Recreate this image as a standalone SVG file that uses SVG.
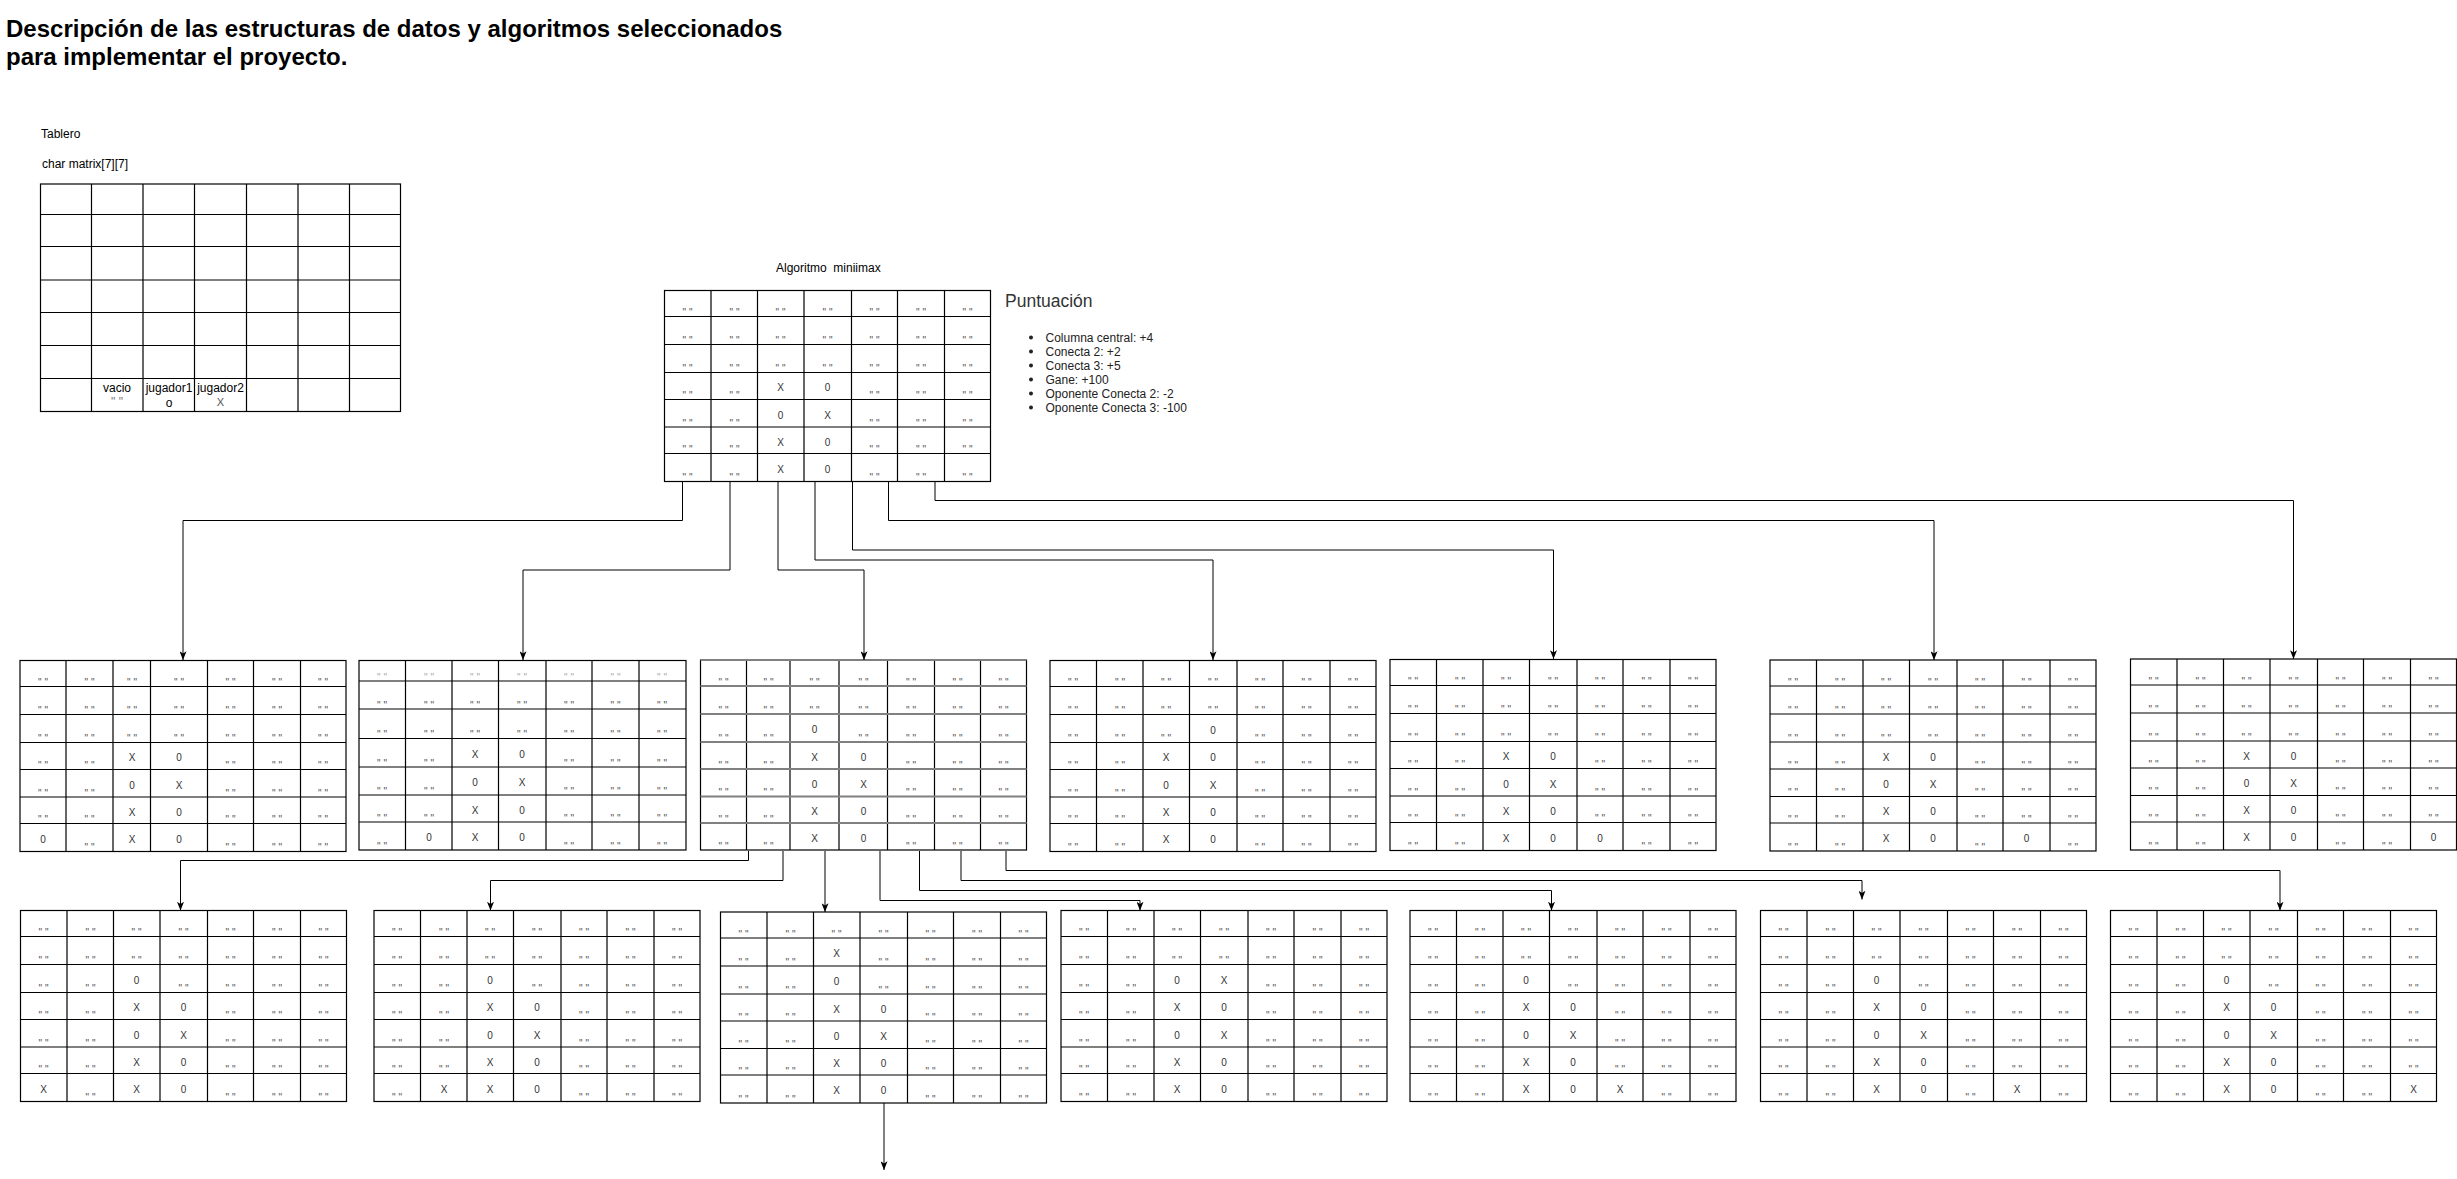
<svg xmlns="http://www.w3.org/2000/svg" width="2457" height="1179" viewBox="0 0 2457 1179">
<style>
text{font-family:"Liberation Sans",Arial,Helvetica,sans-serif}
.title{font-size:24px;font-weight:bold;fill:#000}
.lbl{font-size:12px;fill:#000}
.grid{fill:#fff;stroke:#000;stroke-width:1.2}
.gl{fill:none;stroke:#000;stroke-width:1.2}
.gray{fill:none;stroke:#808080;stroke-width:2}
.q{font-size:10px;fill:#555;text-anchor:middle}
.q2{font-size:10px;fill:#aaa;text-anchor:middle}
.p{font-size:10px;fill:#333;text-anchor:middle}
.c{font-size:12px;fill:#000;text-anchor:middle}
.edge{fill:none;stroke:#000;stroke-width:1}
</style>
<defs>
<marker id="arr" viewBox="0 0 10 8" refX="10" refY="4" markerWidth="9" markerHeight="7" markerUnits="userSpaceOnUse" orient="auto"><path d="M0 0L10 4L0 8L2.5 4z" fill="#000"/></marker>
<g id="grid"><rect class="grid" x="0" y="0" width="326" height="191"/><path class="gl" d="M46.5 0V191M93 0V191M139.5 0V191M187 0V191M233 0V191M280 0V191M0 26H326M0 54H326M0 82H326M0 109H326M0 136.5H326M0 163H326"/></g>
</defs>
<rect width="2457" height="1179" fill="#fff"/>

<g id="title">
<text class="title" x="6" y="37">Descripción de las estructuras de datos y algoritmos seleccionados</text>
<text class="title" x="6" y="65">para implementar el proyecto.</text>
</g>

<g id="tablero-labels">
<text class="lbl" x="41" y="138">Tablero</text>
<text class="lbl" x="42" y="167.5">char matrix[7][7]</text>
</g>

<g id="board-tablero">
<rect class="grid" x="40.5" y="184" width="360" height="227.5"/>
<path class="gl" d="M91.5 184V411.5M143 184V411.5M194.5 184V411.5M246.5 184V411.5M298 184V411.5M349.5 184V411.5M40.5 214.5H400.5M40.5 246.5H400.5M40.5 280H400.5M40.5 312.5H400.5M40.5 345.5H400.5M40.5 378.5H400.5"/>
<text class="c" x="117" y="392">vacio</text>
<text class="c" x="117" y="405.5" style="fill:#777">" "</text>
<text class="c" x="169" y="392">jugador1</text>
<text class="c" x="169" y="407">o</text>
<text class="c" x="220.5" y="392">jugador2</text>
<text class="c" x="220.5" y="405.5" style="fill:#555;font-size:11px">X</text>
</g>

<g id="minimax-label"><text class="lbl" x="776" y="271.5" xml:space="preserve">Algoritmo  miniimax</text></g>

<g id="puntuacion">
<text x="1005" y="306.5" style="font-size:17.5px;fill:#333">Puntuación</text>
<g style="fill:#222">
<circle cx="1031" cy="337.5" r="2"/><circle cx="1031" cy="351.5" r="2"/><circle cx="1031" cy="365.5" r="2"/><circle cx="1031" cy="379.5" r="2"/><circle cx="1031" cy="393.5" r="2"/><circle cx="1031" cy="407.5" r="2"/>
</g>
<g style="font-size:12px;fill:#222">
<text x="1045.5" y="341.5">Columna central: +4</text>
<text x="1045.5" y="355.5">Conecta 2: +2</text>
<text x="1045.5" y="369.5">Conecta 3: +5</text>
<text x="1045.5" y="383.5">Gane: +100</text>
<text x="1045.5" y="397.5">Oponente Conecta 2: -2</text>
<text x="1045.5" y="411.5">Oponente Conecta 3: -100</text>
</g>
</g>

<g id="board-minimax" transform="translate(664.5,290.5)">
<use href="#grid"/>
<g class="q" transform="translate(0,25.5)"><text x="23">" "</text><text x="70">" "</text><text x="116">" "</text><text x="163">" "</text><text x="210">" "</text><text x="256.5">" "</text><text x="303">" "</text></g>
<g class="q" transform="translate(0,53.5)"><text x="23">" "</text><text x="70">" "</text><text x="116">" "</text><text x="163">" "</text><text x="210">" "</text><text x="256.5">" "</text><text x="303">" "</text></g>
<g class="q" transform="translate(0,81.5)"><text x="23">" "</text><text x="70">" "</text><text x="116">" "</text><text x="163">" "</text><text x="210">" "</text><text x="256.5">" "</text><text x="303">" "</text></g>
<g class="q" transform="translate(0,108.5)"><text x="23">" "</text><text x="70">" "</text><text x="210">" "</text><text x="256.5">" "</text><text x="303">" "</text></g>
<g class="p" transform="translate(0,100.5)"><text x="116">X</text><text x="163">0</text></g>
<g class="q" transform="translate(0,136)"><text x="23">" "</text><text x="70">" "</text><text x="210">" "</text><text x="256.5">" "</text><text x="303">" "</text></g>
<g class="p" transform="translate(0,128)"><text x="116">0</text><text x="163">X</text></g>
<g class="q" transform="translate(0,162.5)"><text x="23">" "</text><text x="70">" "</text><text x="210">" "</text><text x="256.5">" "</text><text x="303">" "</text></g>
<g class="p" transform="translate(0,155)"><text x="116">X</text><text x="163">0</text></g>
<g class="q" transform="translate(0,190.5)"><text x="23">" "</text><text x="70">" "</text><text x="210">" "</text><text x="256.5">" "</text><text x="303">" "</text></g>
<g class="p" transform="translate(0,182)"><text x="116">X</text><text x="163">0</text></g>
</g>

<g id="board-b1" transform="translate(20,660.5)">
<rect class="grid" x="0" y="0" width="326" height="191"/>
<path class="gl" d="M46 0V191M93 0V191M130.5 0V191M187.5 0V191M233.5 0V191M280.5 0V191M0 26H326M0 54H326M0 82H326M0 109H326M0 136.5H326M0 163H326"/>
<g class="q" transform="translate(0,25.5)"><text x="23">" "</text><text x="69.5">" "</text><text x="112">" "</text><text x="159">" "</text><text x="210.5">" "</text><text x="257">" "</text><text x="303">" "</text></g>
<g class="q" transform="translate(0,53.5)"><text x="23">" "</text><text x="69.5">" "</text><text x="112">" "</text><text x="159">" "</text><text x="210.5">" "</text><text x="257">" "</text><text x="303">" "</text></g>
<g class="q" transform="translate(0,81.5)"><text x="23">" "</text><text x="69.5">" "</text><text x="112">" "</text><text x="159">" "</text><text x="210.5">" "</text><text x="257">" "</text><text x="303">" "</text></g>
<g class="q" transform="translate(0,108.5)"><text x="23">" "</text><text x="69.5">" "</text><text x="210.5">" "</text><text x="257">" "</text><text x="303">" "</text></g>
<g class="p" transform="translate(0,100.5)"><text x="112">X</text><text x="159">0</text></g>
<g class="q" transform="translate(0,136)"><text x="23">" "</text><text x="69.5">" "</text><text x="210.5">" "</text><text x="257">" "</text><text x="303">" "</text></g>
<g class="p" transform="translate(0,128)"><text x="112">0</text><text x="159">X</text></g>
<g class="q" transform="translate(0,162.5)"><text x="23">" "</text><text x="69.5">" "</text><text x="210.5">" "</text><text x="257">" "</text><text x="303">" "</text></g>
<g class="p" transform="translate(0,155)"><text x="112">X</text><text x="159">0</text></g>
<g class="q" transform="translate(0,190.5)"><text x="69.5">" "</text><text x="210.5">" "</text><text x="257">" "</text><text x="303">" "</text></g>
<g class="p" transform="translate(0,182)"><text x="23">0</text><text x="112">X</text><text x="159">0</text></g>
</g>

<g id="board-b2" transform="translate(359,660.5)">
<rect class="grid" x="0" y="0" width="327" height="189.5"/>
<path class="gl" d="M46.5 0V189.5M93 0V189.5M139.5 0V189.5M187 0V189.5M233 0V189.5M280 0V189.5M0 20.5H327M0 48.5H327M0 78H327M0 106.5H327M0 134.5H327M0 161.5H327"/>
<g class="q2" transform="translate(0,20)"><text x="23">" "</text><text x="70">" "</text><text x="116">" "</text><text x="163">" "</text><text x="210">" "</text><text x="256.5">" "</text><text x="303">" "</text></g>
<g class="q" transform="translate(0,48)"><text x="23">" "</text><text x="70">" "</text><text x="116">" "</text><text x="163">" "</text><text x="210">" "</text><text x="256.5">" "</text><text x="303">" "</text></g>
<g class="q" transform="translate(0,77.5)"><text x="23">" "</text><text x="70">" "</text><text x="116">" "</text><text x="163">" "</text><text x="210">" "</text><text x="256.5">" "</text><text x="303">" "</text></g>
<g class="q" transform="translate(0,106)"><text x="23">" "</text><text x="70">" "</text><text x="210">" "</text><text x="256.5">" "</text><text x="303">" "</text></g>
<g class="p" transform="translate(0,97)"><text x="116">X</text><text x="163">0</text></g>
<g class="q" transform="translate(0,134)"><text x="23">" "</text><text x="70">" "</text><text x="210">" "</text><text x="256.5">" "</text><text x="303">" "</text></g>
<g class="p" transform="translate(0,125.5)"><text x="116">0</text><text x="163">X</text></g>
<g class="q" transform="translate(0,161)"><text x="23">" "</text><text x="70">" "</text><text x="210">" "</text><text x="256.5">" "</text><text x="303">" "</text></g>
<g class="p" transform="translate(0,153)"><text x="116">X</text><text x="163">0</text></g>
<g class="q" transform="translate(0,189)"><text x="23">" "</text><text x="210">" "</text><text x="256.5">" "</text><text x="303">" "</text></g>
<g class="p" transform="translate(0,180.5)"><text x="70">0</text><text x="116">X</text><text x="163">0</text></g>
</g>

<g id="board-b3" transform="translate(700.5,660)">
<rect class="grid" x="0" y="0" width="326" height="190"/>
<path class="gl" d="M46 0V190M89.5 0V190M138.5 0V190M187 0V190M234 0V190M280 0V190"/>
<path class="gray" d="M0 0H326M0 26H326M0 54H326M0 82H326M0 109H326M0 136.5H326M0 163H326"/>
<g class="q" transform="translate(0,25.5)"><text x="23">" "</text><text x="68">" "</text><text x="114">" "</text><text x="163">" "</text><text x="210.5">" "</text><text x="257">" "</text><text x="303">" "</text></g>
<g class="q" transform="translate(0,53.5)"><text x="23">" "</text><text x="68">" "</text><text x="114">" "</text><text x="163">" "</text><text x="210.5">" "</text><text x="257">" "</text><text x="303">" "</text></g>
<g class="q" transform="translate(0,81.5)"><text x="23">" "</text><text x="68">" "</text><text x="163">" "</text><text x="210.5">" "</text><text x="257">" "</text><text x="303">" "</text></g>
<g class="p" transform="translate(0,73)"><text x="114">0</text></g>
<g class="q" transform="translate(0,108.5)"><text x="23">" "</text><text x="68">" "</text><text x="210.5">" "</text><text x="257">" "</text><text x="303">" "</text></g>
<g class="p" transform="translate(0,100.5)"><text x="114">X</text><text x="163">0</text></g>
<g class="q" transform="translate(0,136)"><text x="23">" "</text><text x="68">" "</text><text x="210.5">" "</text><text x="257">" "</text><text x="303">" "</text></g>
<g class="p" transform="translate(0,128)"><text x="114">0</text><text x="163">X</text></g>
<g class="q" transform="translate(0,162.5)"><text x="23">" "</text><text x="68">" "</text><text x="210.5">" "</text><text x="257">" "</text><text x="303">" "</text></g>
<g class="p" transform="translate(0,155)"><text x="114">X</text><text x="163">0</text></g>
<g class="q" transform="translate(0,189.5)"><text x="23">" "</text><text x="68">" "</text><text x="210.5">" "</text><text x="257">" "</text><text x="303">" "</text></g>
<g class="p" transform="translate(0,181.5)"><text x="114">X</text><text x="163">0</text></g>
</g>

<g id="board-b4" transform="translate(1050,660.5)">
<use href="#grid"/>
<g class="q" transform="translate(0,25.5)"><text x="23">" "</text><text x="70">" "</text><text x="116">" "</text><text x="163">" "</text><text x="210">" "</text><text x="256.5">" "</text><text x="303">" "</text></g>
<g class="q" transform="translate(0,53.5)"><text x="23">" "</text><text x="70">" "</text><text x="116">" "</text><text x="163">" "</text><text x="210">" "</text><text x="256.5">" "</text><text x="303">" "</text></g>
<g class="q" transform="translate(0,81.5)"><text x="23">" "</text><text x="70">" "</text><text x="116">" "</text><text x="210">" "</text><text x="256.5">" "</text><text x="303">" "</text></g>
<g class="p" transform="translate(0,73)"><text x="163">0</text></g>
<g class="q" transform="translate(0,108.5)"><text x="23">" "</text><text x="70">" "</text><text x="210">" "</text><text x="256.5">" "</text><text x="303">" "</text></g>
<g class="p" transform="translate(0,100.5)"><text x="116">X</text><text x="163">0</text></g>
<g class="q" transform="translate(0,136)"><text x="23">" "</text><text x="70">" "</text><text x="210">" "</text><text x="256.5">" "</text><text x="303">" "</text></g>
<g class="p" transform="translate(0,128)"><text x="116">0</text><text x="163">X</text></g>
<g class="q" transform="translate(0,162.5)"><text x="23">" "</text><text x="70">" "</text><text x="210">" "</text><text x="256.5">" "</text><text x="303">" "</text></g>
<g class="p" transform="translate(0,155)"><text x="116">X</text><text x="163">0</text></g>
<g class="q" transform="translate(0,190.5)"><text x="23">" "</text><text x="70">" "</text><text x="210">" "</text><text x="256.5">" "</text><text x="303">" "</text></g>
<g class="p" transform="translate(0,182)"><text x="116">X</text><text x="163">0</text></g>
</g>

<g id="board-b5" transform="translate(1390,659.5)">
<use href="#grid"/>
<g class="q" transform="translate(0,25.5)"><text x="23">" "</text><text x="70">" "</text><text x="116">" "</text><text x="163">" "</text><text x="210">" "</text><text x="256.5">" "</text><text x="303">" "</text></g>
<g class="q" transform="translate(0,53.5)"><text x="23">" "</text><text x="70">" "</text><text x="116">" "</text><text x="163">" "</text><text x="210">" "</text><text x="256.5">" "</text><text x="303">" "</text></g>
<g class="q" transform="translate(0,81.5)"><text x="23">" "</text><text x="70">" "</text><text x="116">" "</text><text x="163">" "</text><text x="210">" "</text><text x="256.5">" "</text><text x="303">" "</text></g>
<g class="q" transform="translate(0,108.5)"><text x="23">" "</text><text x="70">" "</text><text x="210">" "</text><text x="256.5">" "</text><text x="303">" "</text></g>
<g class="p" transform="translate(0,100.5)"><text x="116">X</text><text x="163">0</text></g>
<g class="q" transform="translate(0,136)"><text x="23">" "</text><text x="70">" "</text><text x="210">" "</text><text x="256.5">" "</text><text x="303">" "</text></g>
<g class="p" transform="translate(0,128)"><text x="116">0</text><text x="163">X</text></g>
<g class="q" transform="translate(0,162.5)"><text x="23">" "</text><text x="70">" "</text><text x="210">" "</text><text x="256.5">" "</text><text x="303">" "</text></g>
<g class="p" transform="translate(0,155)"><text x="116">X</text><text x="163">0</text></g>
<g class="q" transform="translate(0,190.5)"><text x="23">" "</text><text x="70">" "</text><text x="256.5">" "</text><text x="303">" "</text></g>
<g class="p" transform="translate(0,182)"><text x="116">X</text><text x="163">0</text><text x="210">0</text></g>
</g>

<g id="board-b6" transform="translate(1770,660)">
<use href="#grid"/>
<g class="q" transform="translate(0,25.5)"><text x="23">" "</text><text x="70">" "</text><text x="116">" "</text><text x="163">" "</text><text x="210">" "</text><text x="256.5">" "</text><text x="303">" "</text></g>
<g class="q" transform="translate(0,53.5)"><text x="23">" "</text><text x="70">" "</text><text x="116">" "</text><text x="163">" "</text><text x="210">" "</text><text x="256.5">" "</text><text x="303">" "</text></g>
<g class="q" transform="translate(0,81.5)"><text x="23">" "</text><text x="70">" "</text><text x="116">" "</text><text x="163">" "</text><text x="210">" "</text><text x="256.5">" "</text><text x="303">" "</text></g>
<g class="q" transform="translate(0,108.5)"><text x="23">" "</text><text x="70">" "</text><text x="210">" "</text><text x="256.5">" "</text><text x="303">" "</text></g>
<g class="p" transform="translate(0,100.5)"><text x="116">X</text><text x="163">0</text></g>
<g class="q" transform="translate(0,136)"><text x="23">" "</text><text x="70">" "</text><text x="210">" "</text><text x="256.5">" "</text><text x="303">" "</text></g>
<g class="p" transform="translate(0,128)"><text x="116">0</text><text x="163">X</text></g>
<g class="q" transform="translate(0,162.5)"><text x="23">" "</text><text x="70">" "</text><text x="210">" "</text><text x="256.5">" "</text><text x="303">" "</text></g>
<g class="p" transform="translate(0,155)"><text x="116">X</text><text x="163">0</text></g>
<g class="q" transform="translate(0,190.5)"><text x="23">" "</text><text x="70">" "</text><text x="210">" "</text><text x="303">" "</text></g>
<g class="p" transform="translate(0,182)"><text x="116">X</text><text x="163">0</text><text x="256.5">0</text></g>
</g>

<g id="board-b7" transform="translate(2130.5,659)">
<use href="#grid"/>
<g class="q" transform="translate(0,25.5)"><text x="23">" "</text><text x="70">" "</text><text x="116">" "</text><text x="163">" "</text><text x="210">" "</text><text x="256.5">" "</text><text x="303">" "</text></g>
<g class="q" transform="translate(0,53.5)"><text x="23">" "</text><text x="70">" "</text><text x="116">" "</text><text x="163">" "</text><text x="210">" "</text><text x="256.5">" "</text><text x="303">" "</text></g>
<g class="q" transform="translate(0,81.5)"><text x="23">" "</text><text x="70">" "</text><text x="116">" "</text><text x="163">" "</text><text x="210">" "</text><text x="256.5">" "</text><text x="303">" "</text></g>
<g class="q" transform="translate(0,108.5)"><text x="23">" "</text><text x="70">" "</text><text x="210">" "</text><text x="256.5">" "</text><text x="303">" "</text></g>
<g class="p" transform="translate(0,100.5)"><text x="116">X</text><text x="163">0</text></g>
<g class="q" transform="translate(0,136)"><text x="23">" "</text><text x="70">" "</text><text x="210">" "</text><text x="256.5">" "</text><text x="303">" "</text></g>
<g class="p" transform="translate(0,128)"><text x="116">0</text><text x="163">X</text></g>
<g class="q" transform="translate(0,162.5)"><text x="23">" "</text><text x="70">" "</text><text x="210">" "</text><text x="256.5">" "</text><text x="303">" "</text></g>
<g class="p" transform="translate(0,155)"><text x="116">X</text><text x="163">0</text></g>
<g class="q" transform="translate(0,190.5)"><text x="23">" "</text><text x="70">" "</text><text x="210">" "</text><text x="256.5">" "</text></g>
<g class="p" transform="translate(0,182)"><text x="116">X</text><text x="163">0</text><text x="303">0</text></g>
</g>

<g id="board-c1" transform="translate(20.5,910.5)">
<use href="#grid"/>
<g class="q" transform="translate(0,25.5)"><text x="23">" "</text><text x="70">" "</text><text x="116">" "</text><text x="163">" "</text><text x="210">" "</text><text x="256.5">" "</text><text x="303">" "</text></g>
<g class="q" transform="translate(0,53.5)"><text x="23">" "</text><text x="70">" "</text><text x="116">" "</text><text x="163">" "</text><text x="210">" "</text><text x="256.5">" "</text><text x="303">" "</text></g>
<g class="q" transform="translate(0,81.5)"><text x="23">" "</text><text x="70">" "</text><text x="163">" "</text><text x="210">" "</text><text x="256.5">" "</text><text x="303">" "</text></g>
<g class="p" transform="translate(0,73)"><text x="116">0</text></g>
<g class="q" transform="translate(0,108.5)"><text x="23">" "</text><text x="70">" "</text><text x="210">" "</text><text x="256.5">" "</text><text x="303">" "</text></g>
<g class="p" transform="translate(0,100.5)"><text x="116">X</text><text x="163">0</text></g>
<g class="q" transform="translate(0,136)"><text x="23">" "</text><text x="70">" "</text><text x="210">" "</text><text x="256.5">" "</text><text x="303">" "</text></g>
<g class="p" transform="translate(0,128)"><text x="116">0</text><text x="163">X</text></g>
<g class="q" transform="translate(0,162.5)"><text x="23">" "</text><text x="70">" "</text><text x="210">" "</text><text x="256.5">" "</text><text x="303">" "</text></g>
<g class="p" transform="translate(0,155)"><text x="116">X</text><text x="163">0</text></g>
<g class="q" transform="translate(0,190.5)"><text x="70">" "</text><text x="210">" "</text><text x="256.5">" "</text><text x="303">" "</text></g>
<g class="p" transform="translate(0,182)"><text x="23">X</text><text x="116">X</text><text x="163">0</text></g>
</g>

<g id="board-c2" transform="translate(374,910.5)">
<use href="#grid"/>
<g class="q" transform="translate(0,25.5)"><text x="23">" "</text><text x="70">" "</text><text x="116">" "</text><text x="163">" "</text><text x="210">" "</text><text x="256.5">" "</text><text x="303">" "</text></g>
<g class="q" transform="translate(0,53.5)"><text x="23">" "</text><text x="70">" "</text><text x="116">" "</text><text x="163">" "</text><text x="210">" "</text><text x="256.5">" "</text><text x="303">" "</text></g>
<g class="q" transform="translate(0,81.5)"><text x="23">" "</text><text x="70">" "</text><text x="163">" "</text><text x="210">" "</text><text x="256.5">" "</text><text x="303">" "</text></g>
<g class="p" transform="translate(0,73)"><text x="116">0</text></g>
<g class="q" transform="translate(0,108.5)"><text x="23">" "</text><text x="70">" "</text><text x="210">" "</text><text x="256.5">" "</text><text x="303">" "</text></g>
<g class="p" transform="translate(0,100.5)"><text x="116">X</text><text x="163">0</text></g>
<g class="q" transform="translate(0,136)"><text x="23">" "</text><text x="70">" "</text><text x="210">" "</text><text x="256.5">" "</text><text x="303">" "</text></g>
<g class="p" transform="translate(0,128)"><text x="116">0</text><text x="163">X</text></g>
<g class="q" transform="translate(0,162.5)"><text x="23">" "</text><text x="70">" "</text><text x="210">" "</text><text x="256.5">" "</text><text x="303">" "</text></g>
<g class="p" transform="translate(0,155)"><text x="116">X</text><text x="163">0</text></g>
<g class="q" transform="translate(0,190.5)"><text x="23">" "</text><text x="210">" "</text><text x="256.5">" "</text><text x="303">" "</text></g>
<g class="p" transform="translate(0,182)"><text x="70">X</text><text x="116">X</text><text x="163">0</text></g>
</g>

<g id="board-c3" transform="translate(720.5,912)">
<use href="#grid"/>
<g class="q" transform="translate(0,25.5)"><text x="23">" "</text><text x="70">" "</text><text x="116">" "</text><text x="163">" "</text><text x="210">" "</text><text x="256.5">" "</text><text x="303">" "</text></g>
<g class="q" transform="translate(0,53.5)"><text x="23">" "</text><text x="70">" "</text><text x="163">" "</text><text x="210">" "</text><text x="256.5">" "</text><text x="303">" "</text></g>
<g class="p" transform="translate(0,45)"><text x="116">X</text></g>
<g class="q" transform="translate(0,81.5)"><text x="23">" "</text><text x="70">" "</text><text x="163">" "</text><text x="210">" "</text><text x="256.5">" "</text><text x="303">" "</text></g>
<g class="p" transform="translate(0,73)"><text x="116">0</text></g>
<g class="q" transform="translate(0,108.5)"><text x="23">" "</text><text x="70">" "</text><text x="210">" "</text><text x="256.5">" "</text><text x="303">" "</text></g>
<g class="p" transform="translate(0,100.5)"><text x="116">X</text><text x="163">0</text></g>
<g class="q" transform="translate(0,136)"><text x="23">" "</text><text x="70">" "</text><text x="210">" "</text><text x="256.5">" "</text><text x="303">" "</text></g>
<g class="p" transform="translate(0,128)"><text x="116">0</text><text x="163">X</text></g>
<g class="q" transform="translate(0,162.5)"><text x="23">" "</text><text x="70">" "</text><text x="210">" "</text><text x="256.5">" "</text><text x="303">" "</text></g>
<g class="p" transform="translate(0,155)"><text x="116">X</text><text x="163">0</text></g>
<g class="q" transform="translate(0,190.5)"><text x="23">" "</text><text x="70">" "</text><text x="210">" "</text><text x="256.5">" "</text><text x="303">" "</text></g>
<g class="p" transform="translate(0,182)"><text x="116">X</text><text x="163">0</text></g>
</g>

<g id="board-c4" transform="translate(1061,910.5)">
<use href="#grid"/>
<g class="q" transform="translate(0,25.5)"><text x="23">" "</text><text x="70">" "</text><text x="116">" "</text><text x="163">" "</text><text x="210">" "</text><text x="256.5">" "</text><text x="303">" "</text></g>
<g class="q" transform="translate(0,53.5)"><text x="23">" "</text><text x="70">" "</text><text x="116">" "</text><text x="163">" "</text><text x="210">" "</text><text x="256.5">" "</text><text x="303">" "</text></g>
<g class="q" transform="translate(0,81.5)"><text x="23">" "</text><text x="70">" "</text><text x="210">" "</text><text x="256.5">" "</text><text x="303">" "</text></g>
<g class="p" transform="translate(0,73)"><text x="116">0</text><text x="163">X</text></g>
<g class="q" transform="translate(0,108.5)"><text x="23">" "</text><text x="70">" "</text><text x="210">" "</text><text x="256.5">" "</text><text x="303">" "</text></g>
<g class="p" transform="translate(0,100.5)"><text x="116">X</text><text x="163">0</text></g>
<g class="q" transform="translate(0,136)"><text x="23">" "</text><text x="70">" "</text><text x="210">" "</text><text x="256.5">" "</text><text x="303">" "</text></g>
<g class="p" transform="translate(0,128)"><text x="116">0</text><text x="163">X</text></g>
<g class="q" transform="translate(0,162.5)"><text x="23">" "</text><text x="70">" "</text><text x="210">" "</text><text x="256.5">" "</text><text x="303">" "</text></g>
<g class="p" transform="translate(0,155)"><text x="116">X</text><text x="163">0</text></g>
<g class="q" transform="translate(0,190.5)"><text x="23">" "</text><text x="70">" "</text><text x="210">" "</text><text x="256.5">" "</text><text x="303">" "</text></g>
<g class="p" transform="translate(0,182)"><text x="116">X</text><text x="163">0</text></g>
</g>

<g id="board-c5" transform="translate(1410,910.5)">
<use href="#grid"/>
<g class="q" transform="translate(0,25.5)"><text x="23">" "</text><text x="70">" "</text><text x="116">" "</text><text x="163">" "</text><text x="210">" "</text><text x="256.5">" "</text><text x="303">" "</text></g>
<g class="q" transform="translate(0,53.5)"><text x="23">" "</text><text x="70">" "</text><text x="116">" "</text><text x="163">" "</text><text x="210">" "</text><text x="256.5">" "</text><text x="303">" "</text></g>
<g class="q" transform="translate(0,81.5)"><text x="23">" "</text><text x="70">" "</text><text x="163">" "</text><text x="210">" "</text><text x="256.5">" "</text><text x="303">" "</text></g>
<g class="p" transform="translate(0,73)"><text x="116">0</text></g>
<g class="q" transform="translate(0,108.5)"><text x="23">" "</text><text x="70">" "</text><text x="210">" "</text><text x="256.5">" "</text><text x="303">" "</text></g>
<g class="p" transform="translate(0,100.5)"><text x="116">X</text><text x="163">0</text></g>
<g class="q" transform="translate(0,136)"><text x="23">" "</text><text x="70">" "</text><text x="210">" "</text><text x="256.5">" "</text><text x="303">" "</text></g>
<g class="p" transform="translate(0,128)"><text x="116">0</text><text x="163">X</text></g>
<g class="q" transform="translate(0,162.5)"><text x="23">" "</text><text x="70">" "</text><text x="210">" "</text><text x="256.5">" "</text><text x="303">" "</text></g>
<g class="p" transform="translate(0,155)"><text x="116">X</text><text x="163">0</text></g>
<g class="q" transform="translate(0,190.5)"><text x="23">" "</text><text x="70">" "</text><text x="256.5">" "</text><text x="303">" "</text></g>
<g class="p" transform="translate(0,182)"><text x="116">X</text><text x="163">0</text><text x="210">X</text></g>
</g>

<g id="board-c6" transform="translate(1760.5,910.5)">
<use href="#grid"/>
<g class="q" transform="translate(0,25.5)"><text x="23">" "</text><text x="70">" "</text><text x="116">" "</text><text x="163">" "</text><text x="210">" "</text><text x="256.5">" "</text><text x="303">" "</text></g>
<g class="q" transform="translate(0,53.5)"><text x="23">" "</text><text x="70">" "</text><text x="116">" "</text><text x="163">" "</text><text x="210">" "</text><text x="256.5">" "</text><text x="303">" "</text></g>
<g class="q" transform="translate(0,81.5)"><text x="23">" "</text><text x="70">" "</text><text x="163">" "</text><text x="210">" "</text><text x="256.5">" "</text><text x="303">" "</text></g>
<g class="p" transform="translate(0,73)"><text x="116">0</text></g>
<g class="q" transform="translate(0,108.5)"><text x="23">" "</text><text x="70">" "</text><text x="210">" "</text><text x="256.5">" "</text><text x="303">" "</text></g>
<g class="p" transform="translate(0,100.5)"><text x="116">X</text><text x="163">0</text></g>
<g class="q" transform="translate(0,136)"><text x="23">" "</text><text x="70">" "</text><text x="210">" "</text><text x="256.5">" "</text><text x="303">" "</text></g>
<g class="p" transform="translate(0,128)"><text x="116">0</text><text x="163">X</text></g>
<g class="q" transform="translate(0,162.5)"><text x="23">" "</text><text x="70">" "</text><text x="210">" "</text><text x="256.5">" "</text><text x="303">" "</text></g>
<g class="p" transform="translate(0,155)"><text x="116">X</text><text x="163">0</text></g>
<g class="q" transform="translate(0,190.5)"><text x="23">" "</text><text x="70">" "</text><text x="210">" "</text><text x="303">" "</text></g>
<g class="p" transform="translate(0,182)"><text x="116">X</text><text x="163">0</text><text x="256.5">X</text></g>
</g>

<g id="board-c7" transform="translate(2110.5,910.5)">
<use href="#grid"/>
<g class="q" transform="translate(0,25.5)"><text x="23">" "</text><text x="70">" "</text><text x="116">" "</text><text x="163">" "</text><text x="210">" "</text><text x="256.5">" "</text><text x="303">" "</text></g>
<g class="q" transform="translate(0,53.5)"><text x="23">" "</text><text x="70">" "</text><text x="116">" "</text><text x="163">" "</text><text x="210">" "</text><text x="256.5">" "</text><text x="303">" "</text></g>
<g class="q" transform="translate(0,81.5)"><text x="23">" "</text><text x="70">" "</text><text x="163">" "</text><text x="210">" "</text><text x="256.5">" "</text><text x="303">" "</text></g>
<g class="p" transform="translate(0,73)"><text x="116">0</text></g>
<g class="q" transform="translate(0,108.5)"><text x="23">" "</text><text x="70">" "</text><text x="210">" "</text><text x="256.5">" "</text><text x="303">" "</text></g>
<g class="p" transform="translate(0,100.5)"><text x="116">X</text><text x="163">0</text></g>
<g class="q" transform="translate(0,136)"><text x="23">" "</text><text x="70">" "</text><text x="210">" "</text><text x="256.5">" "</text><text x="303">" "</text></g>
<g class="p" transform="translate(0,128)"><text x="116">0</text><text x="163">X</text></g>
<g class="q" transform="translate(0,162.5)"><text x="23">" "</text><text x="70">" "</text><text x="210">" "</text><text x="256.5">" "</text><text x="303">" "</text></g>
<g class="p" transform="translate(0,155)"><text x="116">X</text><text x="163">0</text></g>
<g class="q" transform="translate(0,190.5)"><text x="23">" "</text><text x="70">" "</text><text x="210">" "</text><text x="256.5">" "</text></g>
<g class="p" transform="translate(0,182)"><text x="116">X</text><text x="163">0</text><text x="303">X</text></g>
</g>

<g id="connectors">
<path class="edge" marker-end="url(#arr)" d="M682.5 481V520.5H183V660"/>
<path class="edge" marker-end="url(#arr)" d="M730 481V570H523V660"/>
<path class="edge" marker-end="url(#arr)" d="M778 481V570H864V660"/>
<path class="edge" marker-end="url(#arr)" d="M815 481V560H1213V660"/>
<path class="edge" marker-end="url(#arr)" d="M852.5 481V550H1553.5V659"/>
<path class="edge" marker-end="url(#arr)" d="M888.5 481V520.5H1934V660"/>
<path class="edge" marker-end="url(#arr)" d="M935 481V500.5H2293.5V659"/>
<path class="edge" marker-end="url(#arr)" d="M748.5 851V860.5H180.5V910.5"/>
<path class="edge" marker-end="url(#arr)" d="M783 851V880.5H490.5V910.5"/>
<path class="edge" marker-end="url(#arr)" d="M825 851V912"/>
<path class="edge" marker-end="url(#arr)" d="M880 851V900.5H1140V910.5"/>
<path class="edge" marker-end="url(#arr)" d="M919.5 851V890.5H1551.5V910.5"/>
<path class="edge" marker-end="url(#arr)" d="M961 851V880.5H1862V899.5"/>
<path class="edge" marker-end="url(#arr)" d="M1006 851V870.5H2280V910.5"/>
<path class="edge" marker-end="url(#arr)" d="M884 1103V1170"/>
</g>
</svg>
